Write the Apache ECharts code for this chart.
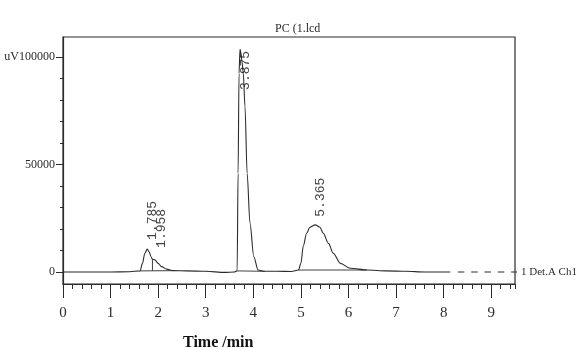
<!DOCTYPE html>
<html>
<head>
<meta charset="utf-8">
<script src="https://cdn.jsdelivr.net/npm/echarts@6/dist/echarts.min.js"></script>
<style>
  html, body { margin: 0; padding: 0; background: #fff; }
  #chart { width: 576px; height: 350px; }
</style>
</head>
<body>
<div id="chart"></div>
<script>
// chromatogram trace, time (min) and signal (uV)
const sigTime = [0, 0.5, 1.0, 1.4, 1.62, 1.67, 1.72, 1.77, 1.81, 1.85, 1.88, 1.93, 2.00, 2.07, 2.18, 2.32,
  2.6, 3.0, 3.4, 3.6, 3.66, 3.68, 3.70, 3.72, 3.74, 3.76, 3.79, 3.825, 3.87, 3.93, 4.01, 4.10, 4.24,
  4.5, 4.8, 4.95, 5.00, 5.05, 5.12, 5.19, 5.30, 5.40, 5.47, 5.58, 5.68, 5.83, 6.04, 6.39,
  6.8, 7.2, 7.6, 8.14];
const sigValue = [0, 0, 0, 100, 500, 4000, 8700, 10600, 9400, 7100, 5900, 5600, 4000, 2500, 1300, 600,
  500, 300, -200, 0, 500, 45900, 92400, 103600, 102000, 98000, 92400, 76900, 45900, 22700, 7100, 900, 300,
  300, 200, 900, 4000, 12000, 18000, 20800, 21900, 20800, 18000, 13300, 8700, 4000, 1700, 900,
  500, 300, 0, 0];

// integration baselines and the drop line at 1.958
const baseTime = [1.62, 2.32, null, 3.66, 4.24, null, 4.95, 6.39, null, 1.88, 1.88];
const baseValue = [500, 600, null, 500, 300, null, 900, 900, null, 550, 5900];

// dashed continuation of the trace
const extTime = [8.3, 9.6];
const extValue = [0, 0];

// peak retention time labels, placed where they stand in the picture
const peakLabels = ['1.785', '1.958', '3.875', '5.365'];
const labelTime = [1.878, 2.07, 3.836, 5.42];
const labelValue = [14900, 11200, 84700, 25700];

const xMajor = [0, 1, 2, 3, 4, 5, 6, 7, 8, 9];
const yMinorTicks = [0, 10000, 20000, 30000, 40000, 50000, 60000, 70000, 80000, 90000, 100000];
const yLabelTicks = [0, 50000, 100000];

const pair = (t, v) => t.map((x, i) => x === null ? [null, null] : [x, v[i]]);

const serif = 'Liberation Serif';
const ink = '#2b2b2b';

let option = {
    animation: false,
    title: {
        text: 'PC (1.lcd',
        left: 270,
        top: 18,
        textStyle: { fontFamily: serif, fontSize: 12, fontWeight: 'normal', color: ink }
    },
    grid: {
        left: 63, right: 61, top: 37, bottom: 66,
        show: true,
        borderColor: ink,
        borderWidth: 1.2
    },
    xAxis: [{
        type: 'value',
        position: 'bottom',
        min: 0,
        max: 9.5,
        interval: 1,
        axisLine: { show: true, onZero: false, lineStyle: { color: ink, width: 1.2 } },
        axisTick: { length: 14, lineStyle: { color: ink } },
        axisLabel: {
            margin: 22,
            fontFamily: serif,
            fontSize: 15,
            color: ink,
            showMaxLabel: false,
            formatter: v => xMajor.includes(v) ? String(v) : ''
        },
        splitLine: { show: false }
    }, {
        type: 'value',
        position: 'bottom',
        min: 0,
        max: 9.5,
        interval: 0.2,
        axisLine: { show: false, onZero: false },
        axisTick: { length: 5, lineStyle: { color: ink } },
        axisLabel: { show: false },
        splitLine: { show: false }
    }],
    yAxis: [{
        type: 'value',
        position: 'left',
        min: -5600,
        max: 109300,
        axisLine: { show: true, onZero: false, lineStyle: { color: ink, width: 1.2 } },
        axisTick: { show: true, length: 3, customValues: yMinorTicks, lineStyle: { color: ink } },
        axisLabel: { show: false },
        splitLine: { show: false }
    }, {
        type: 'value',
        position: 'left',
        min: -5600,
        max: 109300,
        axisLine: { show: false, onZero: false },
        axisTick: { show: true, length: 7, customValues: yLabelTicks, lineStyle: { color: ink } },
        axisLabel: {
            customValues: yLabelTicks,
            margin: 8,
            fontFamily: serif,
            fontSize: 12,
            color: ink,
            formatter: v => v === 100000 ? 'uV100000' : String(v)
        },
        splitLine: { show: false }
    }],
    graphic: [{
        type: 'text',
        left: 183,
        top: 335,
        style: {
            text: 'Time /min',
            font: 'bold 16px "Liberation Serif"',
            fill: '#111'
        }
    }],
    series: [{
        name: 'signal',
        type: 'line',
        data: pair(sigTime, sigValue),
        showSymbol: false,
        smooth: 0.3,
        smoothMonotone: 'x',
        lineStyle: { color: ink, width: 1.1 },
        z: 3
    }, {
        name: 'baseline',
        type: 'line',
        data: pair(baseTime, baseValue),
        connectNulls: false,
        showSymbol: false,
        lineStyle: { color: ink, width: 0.9 },
        z: 2
    }, {
        name: 'ext',
        type: 'line',
        data: pair(extTime, extValue),
        clip: false,
        showSymbol: false,
        lineStyle: { color: ink, width: 1.1, type: [6.5, 6.8] },
        endLabel: {
            show: true,
            distance: 4,
            formatter: '1 Det.A Ch1',
            fontFamily: serif,
            fontSize: 11,
            color: ink
        }
    }, {
        name: 'peaks',
        type: 'scatter',
        symbolSize: 0,
        data: pair(labelTime, labelValue),
        label: {
            show: true,
            position: 'inside',
            rotate: 90,
            align: 'left',
            verticalAlign: 'middle',
            fontFamily: 'Liberation Mono',
            fontSize: 13,
            color: '#111',
            formatter: p => peakLabels[p.dataIndex]
        },
        z: 4
    }]
};

var myChart = echarts.init(document.getElementById('chart'));
myChart.setOption(option);
</script>
</body>
</html>
